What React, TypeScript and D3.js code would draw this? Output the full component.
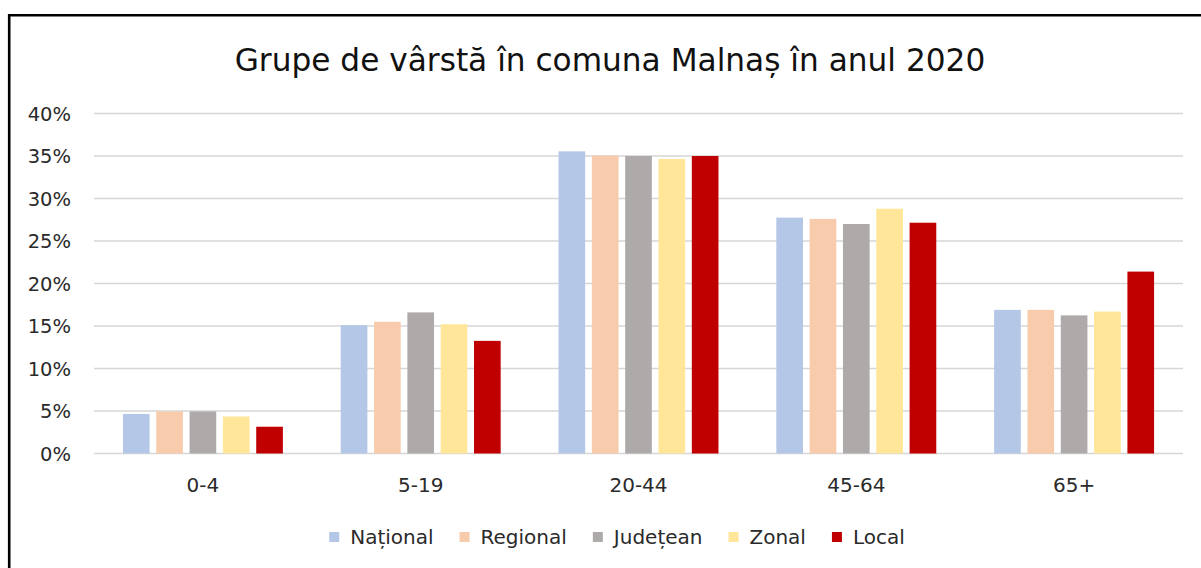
import React, { useEffect, useRef } from "react";
import * as d3 from "d3";

const title = "Grupe de vârstă în comuna Malnaș în anul 2020";
const categories = ["0-4", "5-19", "20-44", "45-64", "65+"];
const seriesNames = ["Național", "Regional", "Județean", "Zonal", "Local"];
const seriesColors = ["#b4c7e7", "#f8cbad", "#aeaaaa", "#ffe699", "#c00000"];
const national = [4.65, 15.1, 35.55, 27.75, 16.9];
const regional = [4.95, 15.5, 35.05, 27.6, 16.9];
const judetean = [4.95, 16.6, 35.0, 27.0, 16.25];
const zonal = [4.35, 15.2, 34.65, 28.8, 16.7];
const local = [3.15, 13.25, 35.0, 27.15, 21.4];
const yTicks = [0, 5, 10, 15, 20, 25, 30, 35, 40];

const W = 1201;
const H = 568;
const FONT = "'DejaVu Sans', sans-serif";

export default function App() {
  const ref = useRef<SVGSVGElement>(null);

  useEffect(() => {
    const svg = d3.select(ref.current);
    svg.selectAll("*").remove();
    const series = [national, regional, judetean, zonal, local];

    const plotL = 94, plotR = 1183, plotTop = 113.5, plotBottom = 453.5;

    // frame
    svg.append("path")
      .attr("d", `M9.2,${H + 10} V15.3 H${W + 10}`)
      .attr("fill", "none")
      .attr("stroke", "#000")
      .attr("stroke-width", 2.6);

    // title
    svg.append("text")
      .attr("x", 610)
      .attr("y", 71)
      .attr("text-anchor", "middle")
      .attr("font-family", FONT)
      .attr("font-size", 31.2)
      .attr("fill", "#111")
      .text(title);

    const y = d3.scaleLinear().domain([0, 40]).range([plotBottom, plotTop]);
    const x0 = d3.scaleBand<string>()
      .domain(categories)
      .range([plotL, plotR])
      .paddingInner(0.235)
      .paddingOuter(0.1175);
    const x1 = d3.scaleBand<string>()
      .domain(seriesNames)
      .range([0, x0.bandwidth()])
      .paddingInner(0.2)
      .paddingOuter(0.1);

    // gridlines
    svg.append("g")
      .selectAll("line")
      .data(yTicks)
      .join("line")
      .attr("x1", plotL)
      .attr("x2", plotR)
      .attr("y1", (d) => y(d))
      .attr("y2", (d) => y(d))
      .attr("stroke", "#d6d6d6")
      .attr("stroke-width", 1.3);

    // y labels
    svg.append("g")
      .selectAll("text")
      .data(yTicks)
      .join("text")
      .attr("x", 71)
      .attr("y", (d) => y(d))
      .attr("dy", "0.36em")
      .attr("text-anchor", "end")
      .attr("font-family", FONT)
      .attr("font-size", 19.5)
      .attr("fill", "#2a2a2a")
      .text((d) => `${d}%`);

    // bars
    const groups = svg.append("g")
      .selectAll("g")
      .data(categories)
      .join("g")
      .attr("transform", (c) => `translate(${x0(c)},0)`);
    groups.selectAll("rect")
      .data((c) => seriesNames.map((s, si) => ({ s, si, v: series[si][categories.indexOf(c)] })))
      .join("rect")
      .attr("x", (d) => x1(d.s)!)
      .attr("width", x1.bandwidth())
      .attr("y", (d) => y(d.v))
      .attr("height", (d) => y(0) - y(d.v))
      .attr("fill", (d) => seriesColors[d.si]);

    // x labels
    svg.append("g")
      .selectAll("text")
      .data(categories)
      .join("text")
      .attr("x", (c) => x0(c)! + x0.bandwidth() / 2)
      .attr("y", 492)
      .attr("text-anchor", "middle")
      .attr("font-family", FONT)
      .attr("font-size", 20)
      .attr("fill", "#2a2a2a")
      .text((c) => c);

    // legend
    const leg = svg.append("g");
    const sq = 10, textOff = 21, gap = 26;
    const items = seriesNames.map((name, i) => {
      const g = leg.append("g");
      g.append("rect")
        .attr("x", 0)
        .attr("y", 532)
        .attr("width", sq)
        .attr("height", sq)
        .attr("fill", seriesColors[i]);
      const t = g.append("text")
        .attr("x", textOff)
        .attr("y", 544)
        .attr("font-family", FONT)
        .attr("font-size", 20)
        .attr("fill", "#2a2a2a")
        .text(name);
      const w = (t.node() as SVGTextElement).getComputedTextLength();
      return { g, w: textOff + w };
    });
    const total = d3.sum(items, (d) => d.w) + gap * (items.length - 1);
    let cx = 617 - total / 2;
    items.forEach((it) => {
      it.g.attr("transform", `translate(${cx},0)`);
      cx += it.w + gap;
    });
  }, []);

  return (
    <svg
      ref={ref}
      width={W}
      height={H}
      style={{ position: "absolute", left: 0, top: 0, background: "#fff" }}
    />
  );
}
